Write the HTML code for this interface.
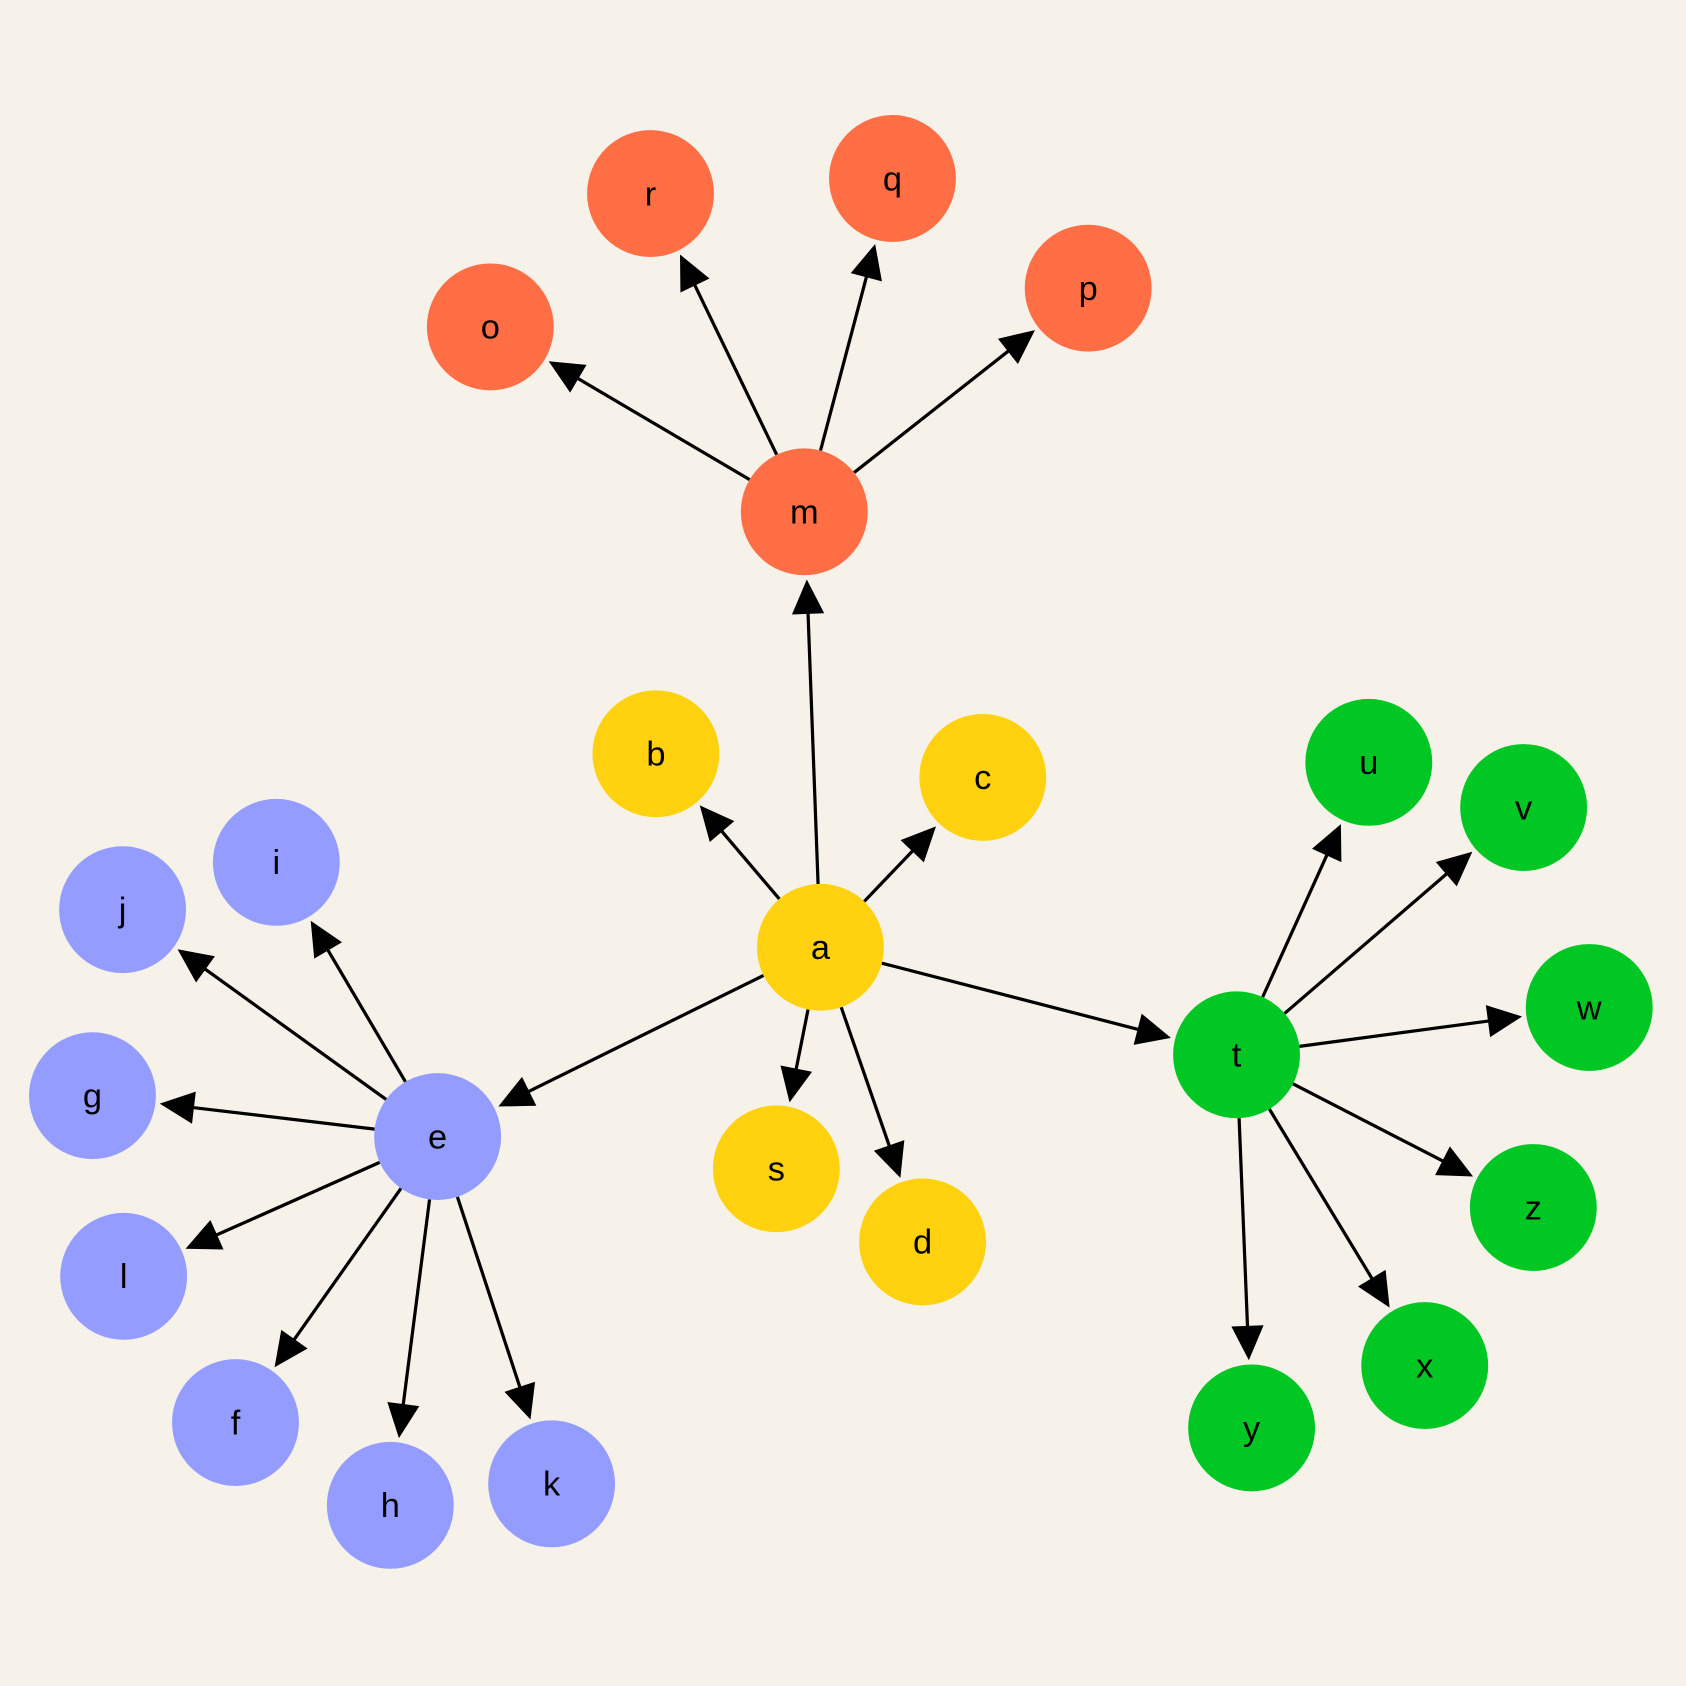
<!DOCTYPE html>
<html><head><meta charset="utf-8"><style>
html,body{margin:0;padding:0;background:#f6f2ea;}
svg{display:block}
text{font-family:"Liberation Sans",Arial,sans-serif;font-size:32px;fill:#000;}
</style></head><body>
<svg id="chart" width="1686" height="1686" viewBox="0 0 1568 1568" xmlns="http://www.w3.org/2000/svg">
<rect width="1568" height="1568" fill="#f6f2ea"/>
<g id="edges"></g>
<g id="nodes"></g>
</svg>
<script>
const nodeIds = ["a","b","c","s","d","m","o","r","q","p","e","i","j","g","l","f","h","k","t","u","v","w","z","x","y"];
const nodeX = [763,610,914,722,858,748,456,605,830,1012,407,257,114,86,115,219,363,513,1150,1273,1417,1478,1426,1325,1164];
const nodeY = [881,701,723,1087,1155,476,304,180,166,268,1057,802,846,1019,1187,1323,1400,1380,981,709,751,937,1123,1270,1328];
const nodeGroup = ["yellow","yellow","yellow","yellow","yellow","orange","orange","orange","orange","orange","blue","blue","blue","blue","blue","blue","blue","blue","green","green","green","green","green","green","green"];
const edgeSource = ["a","a","a","a","a","a","a","m","m","m","m","e","e","e","e","e","e","e","t","t","t","t","t","t"];
const edgeTarget = ["m","b","c","s","d","e","t","o","r","q","p","i","j","g","l","f","h","k","u","v","w","z","x","y"];
const colors = {yellow:"#ffd10f",orange:"#ff6e45",blue:"#949dff",green:"#00c723"};
const R = 59, NS = "http://www.w3.org/2000/svg";
const eg = document.getElementById("edges"), ng = document.getElementById("nodes");
function pos(id){const i=nodeIds.indexOf(id);return [nodeX[i],nodeY[i]];}
edgeSource.forEach((s,k)=>{
  const [x1,y1]=pos(s),[x2,y2]=pos(edgeTarget[k]);
  const dx=x2-x1,dy=y2-y1,L=Math.hypot(dx,dy),ux=dx/L,uy=dy/L;
  const sx=x1+ux*R,sy=y1+uy*R,tx=x2-ux*(R+4),ty=y2-uy*(R+4);
  const bx=tx-ux*32,by=ty-uy*32,px=-uy*15,py=ux*15;
  const g=document.createElementNS(NS,"g");
  
  
  const ln=document.createElementNS(NS,"line");
  ln.setAttribute("x1",sx);ln.setAttribute("y1",sy);ln.setAttribute("x2",bx+ux*2);ln.setAttribute("y2",by+uy*2);
  ln.setAttribute("stroke","#000");ln.setAttribute("stroke-width","3");
  const ar=document.createElementNS(NS,"polygon");
  ar.setAttribute("points",`${tx},${ty} ${bx+px},${by+py} ${bx-px},${by-py}`);
  ar.setAttribute("fill","#000");
  
  
  g.appendChild(ln);g.appendChild(ar);eg.appendChild(g);
});
nodeIds.forEach((id,i)=>{
  const g=document.createElementNS(NS,"g");
  
  
  const c=document.createElementNS(NS,"circle");
  c.setAttribute("cx",nodeX[i]);c.setAttribute("cy",nodeY[i]);c.setAttribute("r",R);
  c.setAttribute("fill",colors[nodeGroup[i]]);
  const t=document.createElementNS(NS,"text");
  t.setAttribute("x",nodeX[i]);t.setAttribute("y",nodeY[i]+11);t.setAttribute("text-anchor","middle");
  t.textContent=id;
  
  
  g.appendChild(c);g.appendChild(t);ng.appendChild(g);
});
</script>
</body></html>
